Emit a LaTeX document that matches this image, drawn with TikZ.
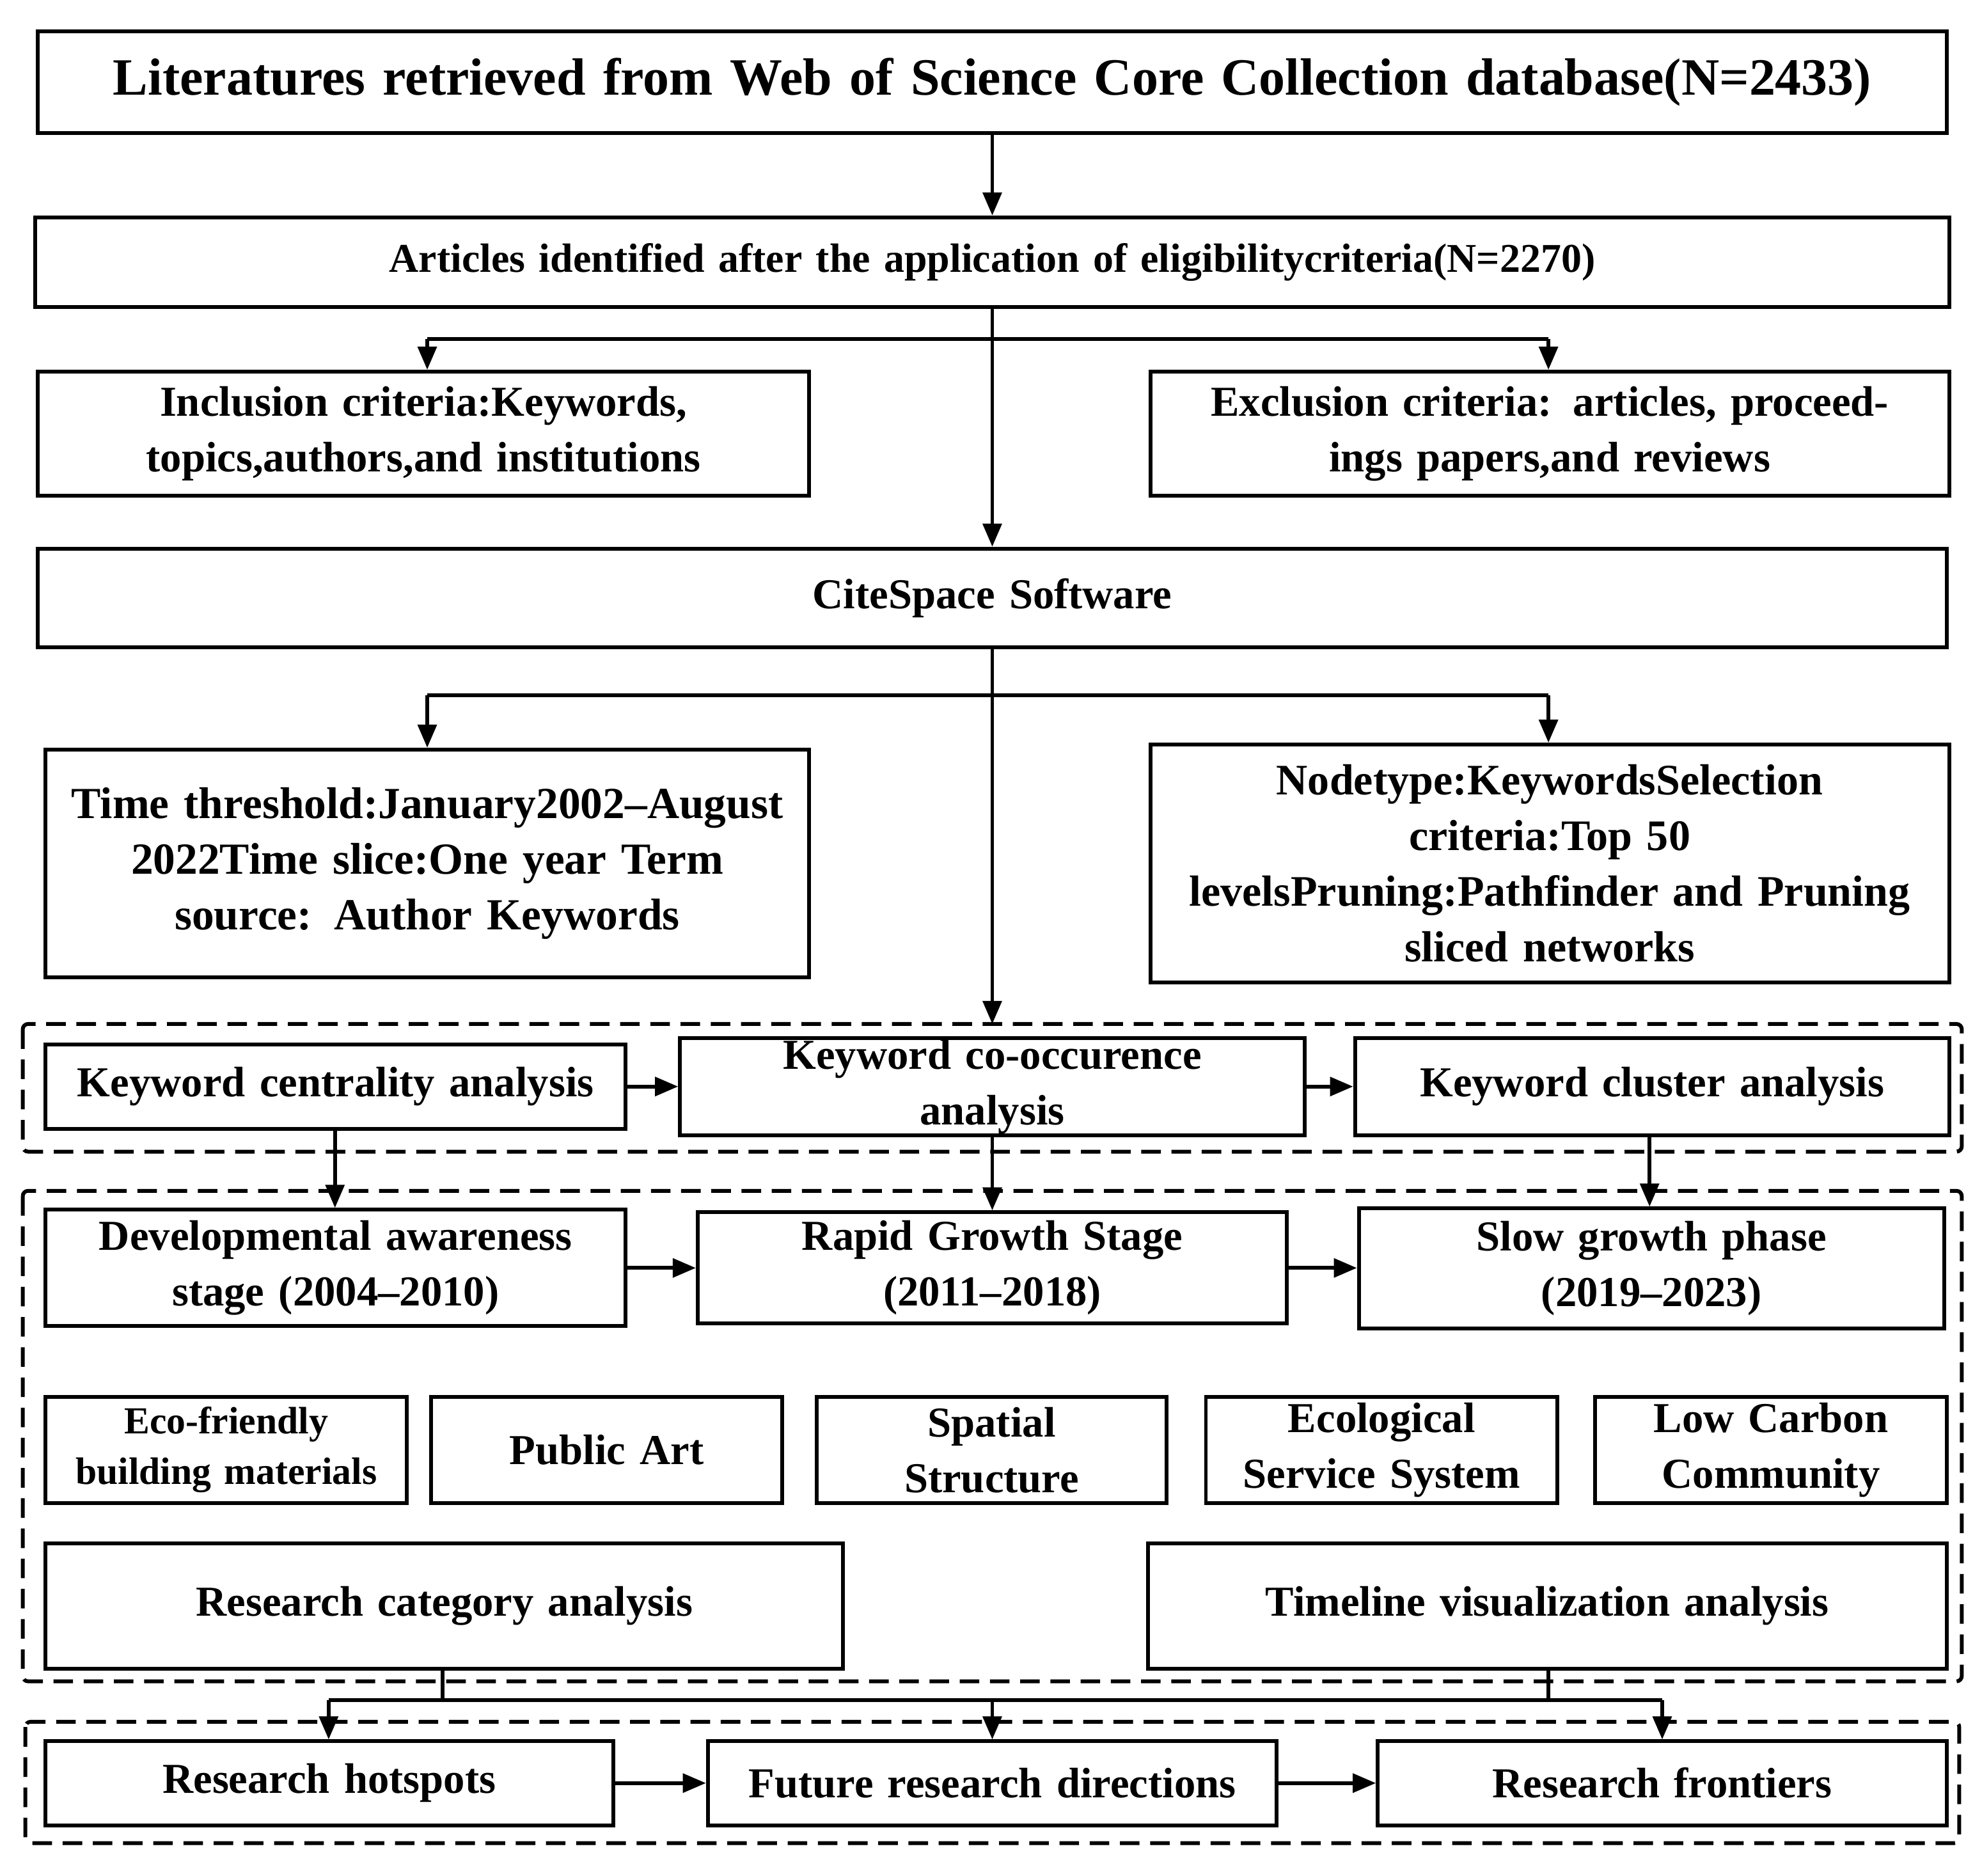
\documentclass[tikz,border=0pt]{standalone}
\usepackage{fontspec}
\setmainfont{Liberation Serif}
\usetikzlibrary{arrows.meta}
\newcommand\bx[7][]{%
\pgfmathsetmacro\myW{(#5-#3)*0.05}\pgfmathsetmacro\myH{(#6-#4)*0.05}%
\pgfmathsetmacro\myT{(#5-#3)*0.05-0.8}\pgfmathsetmacro\myX{(#3+#5)/2}\pgfmathsetmacro\myY{(#4+#6)/2}%
\node[box,minimum width=\myW cm,minimum height=\myH cm,text width=\myT cm,#1] (#2) at (\myX,\myY) {#7};}
\newcommand\grp[4]{\draw[grpline,rounded corners=6pt] (#1,#2) rectangle (#3,#4);}
\begin{document}
\begin{tikzpicture}[x=0.05cm,y=-0.05cm,
 box/.style={draw,line width=4.3pt,inner sep=0pt,align=center,font=\fontsize{48pt}{62.6pt}\selectfont\bfseries},
 grpline/.style={line width=4.3pt,dash pattern=on 22pt off 12pt},
 ar/.style={line width=4.3pt,-{Triangle[length=26pt,width=21pt]}},
 ln/.style={line width=4.3pt}]
\useasboundingbox (0,0) rectangle (1568,1484);
\bx[font=\fontsize{59pt}{64pt}\selectfont\bfseries,text width=74cm]{lit}{30}{25}{1540}{105}{Literatures retrieved from Web of Science Core Collection database(N=2433)}
\bx[font=\fontsize{46pt}{60pt}\selectfont\bfseries]{art}{28}{172}{1542}{243}{Articles identified after the application of eligibilitycriteria(N=2270)}
\bx{inc}{30}{294}{640}{392}{Inclusion criteria:Keywords,\\ topics,authors,and institutions}
\bx{exc}{910}{294}{1542}{392}{Exclusion criteria: articles, proceed-\\ings papers,and reviews}
\bx{cite}{30}{434}{1540}{512}{CiteSpace Software}
\bx[font=\fontsize{50pt}{62.6pt}\selectfont\bfseries]{time}{36}{593}{640}{773}{Time threshold:January2002--August\\ 2022Time slice:One year Term\\ source: Author Keywords}
\bx[font=\fontsize{49pt}{62.6pt}\selectfont\bfseries]{node}{910}{589}{1542}{777}{Nodetype:KeywordsSelection\\ criteria:Top 50\\ levelsPruning:Pathfinder and Pruning\\ sliced networks}
\grp{18}{810}{1552}{911}
\bx{kc}{36}{826}{495}{893}{Keyword centrality analysis}
\bx{ko}{538}{821}{1032}{898}{Keyword co-occurence\\ analysis}
\bx{kcl}{1072}{821}{1542}{898}{Keyword cluster analysis}
\grp{18}{942}{1552}{1330}
\bx{dev}{36}{957}{495}{1049}{Developmental awareness\\ stage\,\,(2004--2010)}
\bx{rap}{552}{959}{1018}{1047}{Rapid Growth Stage\\(2011--2018)}
\bx{slow}{1075}{956}{1538}{1051}{Slow growth phase\\(2019--2023)}
\bx[font=\fontsize{43pt}{57pt}\selectfont\bfseries,text width=14.2cm]{eco}{36}{1105}{322}{1189}{Eco-friendly\\ building materials}
\bx{pub}{341}{1105}{619}{1189}{Public Art}
\bx{spa}{646}{1105}{923}{1189}{Spatial\\ Structure}
\bx[text width=13.8cm]{ess}{954}{1105}{1232}{1189}{Ecological\\ Service System}
\bx{lcc}{1262}{1105}{1540}{1189}{Low Carbon\\ Community}
\bx{rca}{36}{1221}{667}{1320}{Research category analysis}
\bx{tva}{908}{1221}{1540}{1320}{Timeline visualization analysis}
\grp{20}{1362}{1550}{1458}
\bx{hot}{36}{1377}{485}{1444}{Research hotspots}
\bx{fut}{560}{1377}{1010}{1444}{Future research directions}
\bx{fro}{1090}{1377}{1540}{1444}{Research frontiers}
% connectors
\draw[ar] (lit.south) -- (art.north);
\draw[ar] (art.south) -- (cite.north);
\coordinate (b1) at (338,268); \coordinate (b2) at (1225,268);
\draw[ln] (b1) -- (b2);
\draw[ar] (b1) -- (b1 |- inc.north);
\draw[ar] (b2) -- (b2 |- exc.north);
\coordinate (c0) at (785,810);
\draw[ar] (cite.south) -- (c0);
\coordinate (c1) at (338,550); \coordinate (c2) at (1225,550);
\draw[ln] (c1) -- (c2);
\draw[ar] (c1) -- (c1 |- time.north);
\draw[ar] (c2) -- (c2 |- node.north);
\draw[ar] (kc.east) -- (ko.west |- kc.east);
\draw[ar] (ko.east |- kcl.west) -- (kcl.west);
\draw[ar] (kc.south -| 265,0) -- (dev.north -| 265,0);
\draw[ar] (ko.south) -- (rap.north);
\draw[ar] (kcl.south -| 1305,0) -- (slow.north -| 1305,0);
\draw[ar] (dev.east |- 0,1003) -- (rap.west |- 0,1003);
\draw[ar] (rap.east |- 0,1003) -- (slow.west |- 0,1003);
\coordinate (d1) at (260,1345); \coordinate (d2) at (785,1345); \coordinate (d3) at (1315,1345);
\draw[ln] (rca.south -| 350,0) -- (350,1345);
\draw[ln] (tva.south -| 1225,0) -- (1225,1345);
\draw[ln] (d1) -- (d3);
\draw[ar] (d1) -- (260,1376);
\draw[ar] (d2) -- (785,1376);
\draw[ar] (d3) -- (1315,1376);
\draw[ar] (hot.east) -- (fut.west);
\draw[ar] (fut.east) -- (fro.west);
\end{tikzpicture}
\end{document}
